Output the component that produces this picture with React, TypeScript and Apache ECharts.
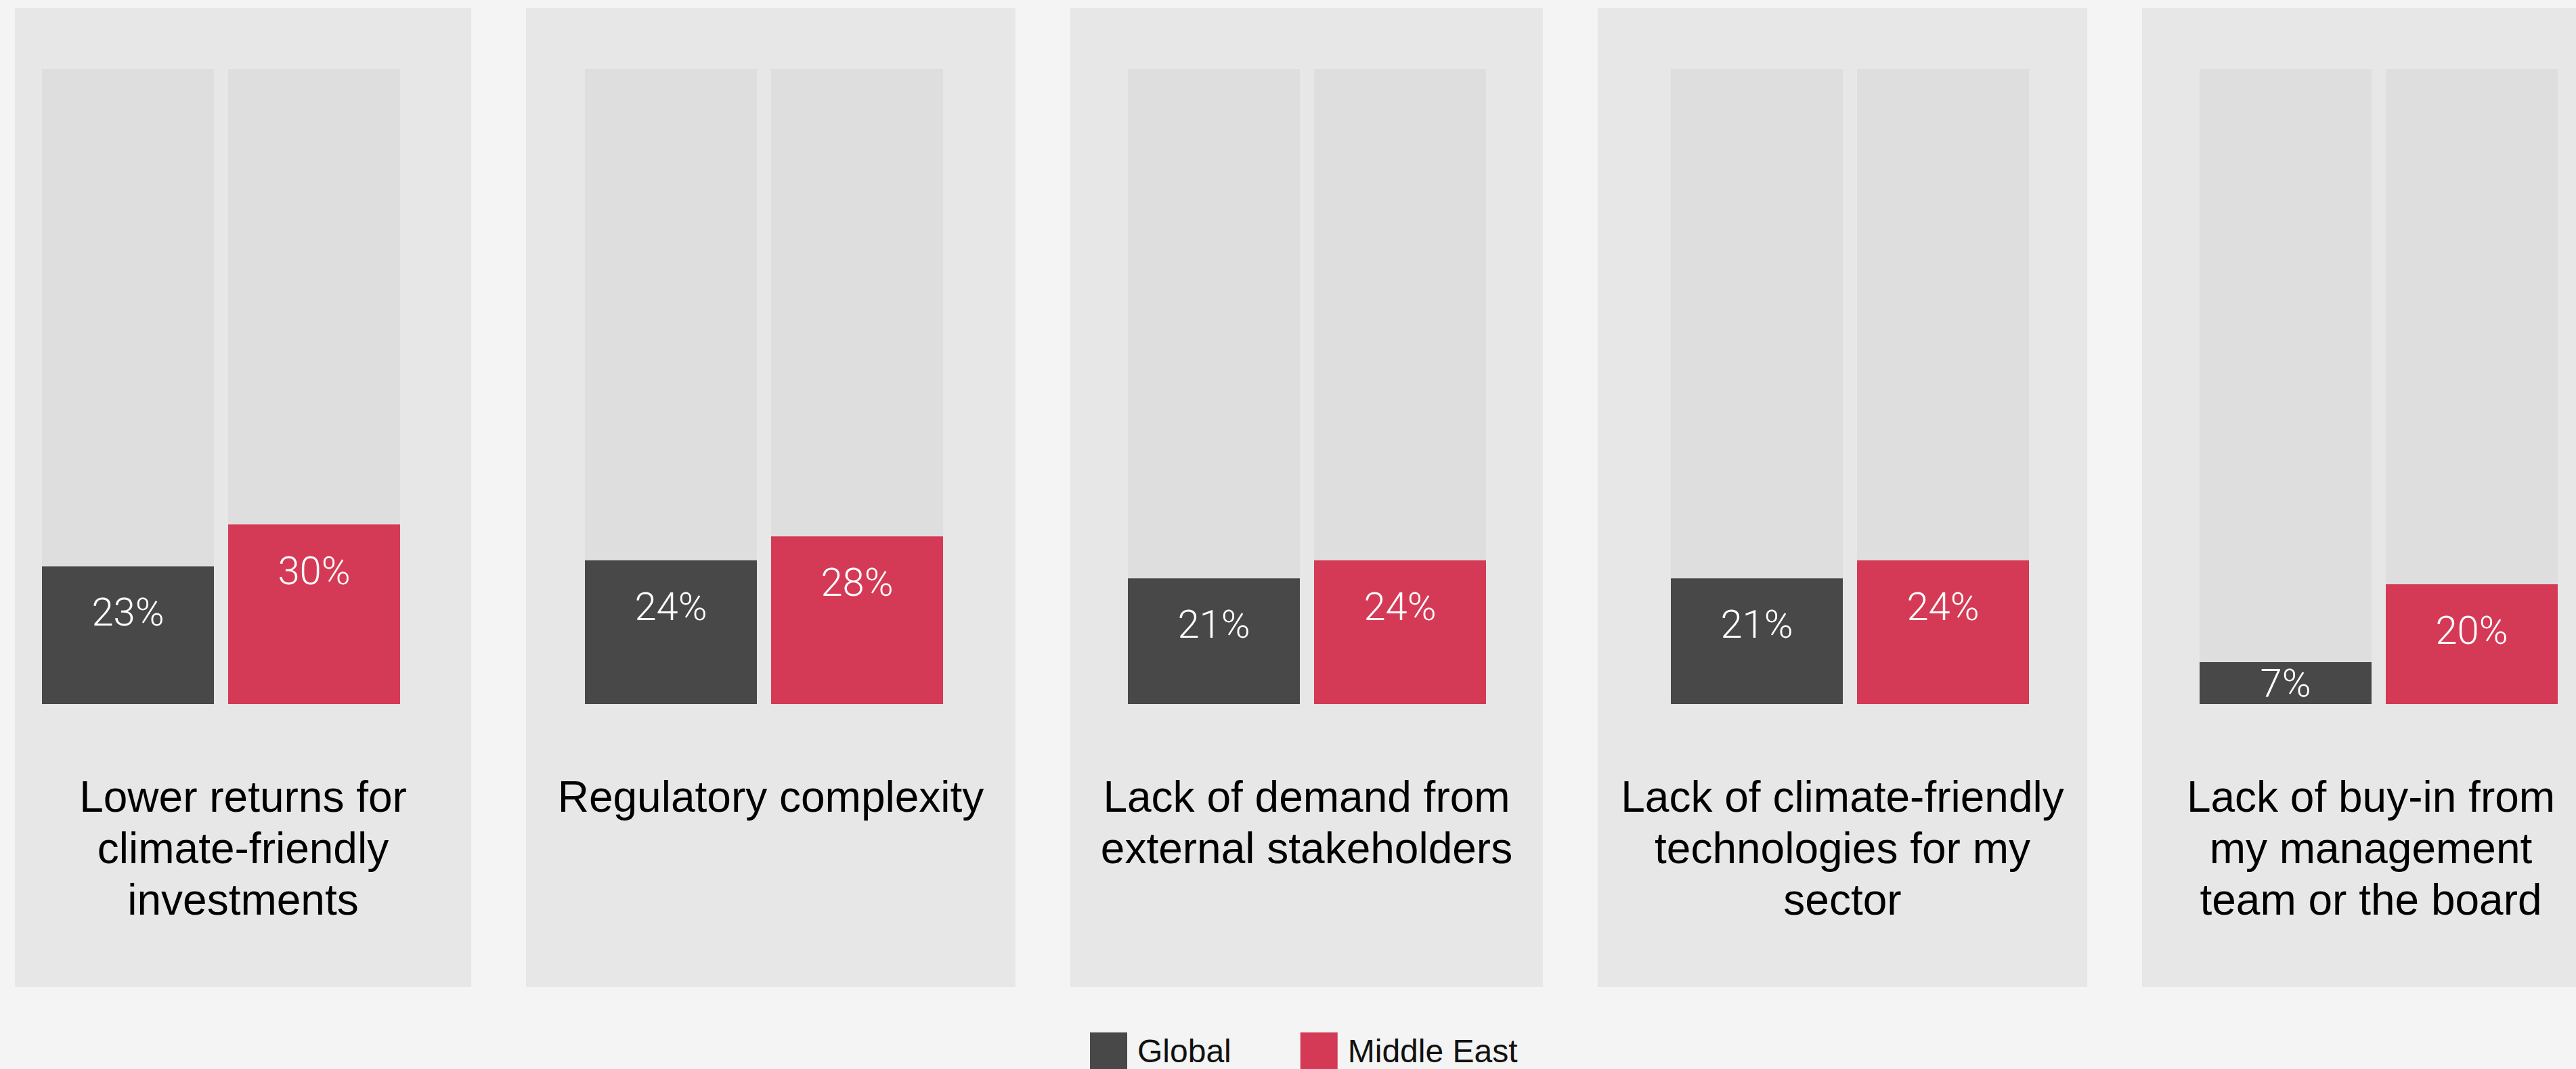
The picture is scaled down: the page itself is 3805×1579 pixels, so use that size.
import React, { useEffect, useRef } from "react";
import * as echarts from "echarts";

// ---- data ----
const categories = [
  "Lower returns for\nclimate-friendly\ninvestments",
  "Regulatory complexity",
  "Lack of demand from\nexternal stakeholders",
  "Lack of climate-friendly\ntechnologies for my\nsector",
  "Lack of buy-in from\nmy management\nteam or the board",
];
const globalValues = [23, 24, 21, 21, 7];
const middleEastValues = [30, 28, 24, 24, 20];
const seriesNames = ["Global", "Middle East"];

// ---- layout (pixels) ----
const W = 3805;
const H = 1579;
const PANEL_LEFT = [22, 777, 1581, 2360, 3164];
const PANEL_RIGHT = [696, 1500, 2279, 3083, 3840];
const PANEL_TOP = 12;
const PANEL_BOTTOM = 1458;
const PAIR_LEFT = [62, 864, 1666, 2468, 3249];
const BAR_W = 254;
const BAR_GAP = 21;
const PLOT_TOP = 102;
const PLOT_BOTTOM = 1040;
const Y_MAX = 106;

// ---- styles ----
const PAGE_BG = "#f3f4f3";
const PANEL_BG = "#e7e7e7";
const TRACK_BG = "#dedede";
const COLORS = ["#484848", "#d43a56"];
const FONT = "'Liberation Sans', Arial, Helvetica, sans-serif";

function buildOption() {
  const grids: any[] = [];
  const xAxes: any[] = [];
  const yAxes: any[] = [];
  const series: any[] = [];
  const graphics: any[] = [];

  categories.forEach((cat, i) => {
    grids.push({
      left: PAIR_LEFT[i],
      top: PLOT_TOP,
      width: BAR_W * 2 + BAR_GAP,
      height: PLOT_BOTTOM - PLOT_TOP,
      containLabel: false,
    });
    xAxes.push({
      type: "category",
      gridIndex: i,
      data: [cat],
      show: false,
    });
    yAxes.push({
      type: "value",
      gridIndex: i,
      min: 0,
      max: Y_MAX,
      show: false,
      splitLine: { show: false },
    });
    [globalValues, middleEastValues].forEach((vals, s) => {
      const v = vals[i];
      series.push({
        type: "bar",
        name: seriesNames[s],
        xAxisIndex: i,
        yAxisIndex: i,
        barWidth: BAR_W,
        barGap: ((BAR_GAP / BAR_W) * 100).toFixed(2) + "%",
        showBackground: true,
        backgroundStyle: { color: TRACK_BG },
        itemStyle: { color: COLORS[s] },
        label: {
          show: true,
          position: "insideTop",
          distance: 39,
          formatter: "{c}%",
          color: "#ffffff",
          fontSize: 58,
          fontFamily: "Roboto, 'Liberation Sans', sans-serif",
          fontWeight: 300,
        },
        data: [
          v < 12
            ? { value: v, label: { position: "inside", distance: 0 } }
            : { value: v },
        ],
      });
    });

    // panel background
    graphics.push({
      type: "rect",
      z: -10,
      silent: true,
      shape: {
        x: PANEL_LEFT[i],
        y: PANEL_TOP,
        width: PANEL_RIGHT[i] - PANEL_LEFT[i],
        height: PANEL_BOTTOM - PANEL_TOP,
      },
      style: { fill: PANEL_BG },
    });
    // category label
    graphics.push({
      type: "text",
      z: 10,
      silent: true,
      x: (PANEL_LEFT[i] + PANEL_RIGHT[i]) / 2,
      y: 1139,
      style: {
        text: cat,
        fill: "#000000",
        font: `64px ${FONT}`,
        fontSize: 64,
        fontFamily: FONT,
        textAlign: "center",
        textVerticalAlign: "top",
        lineHeight: 76,
      },
    });
  });

  return {
    animation: false,
    backgroundColor: PAGE_BG,
    legend: {
      data: seriesNames,
      left: 1605,
      top: 1520,
      icon: "rect",
      itemWidth: 55,
      itemHeight: 55,
      itemGap: 102,
      selectedMode: false,
      textStyle: {
        fontSize: 48,
        color: "#111111",
        fontFamily: FONT,
        padding: [0, 0, 0, 10],
      },
    },
    grid: grids,
    xAxis: xAxes,
    yAxis: yAxes,
    series,
    graphic: graphics,
  };
}

export default function App() {
  const ref = useRef<HTMLDivElement>(null);
  useEffect(() => {
    if (!ref.current) return;
    const chart = echarts.init(ref.current, undefined, { renderer: "svg" });
    chart.setOption(buildOption() as any);
    return () => chart.dispose();
  }, []);
  return (
    <div
      ref={ref}
      style={{
        position: "fixed",
        left: 0,
        top: 0,
        width: W,
        height: H,
        background: PAGE_BG,
      }}
    />
  );
}
